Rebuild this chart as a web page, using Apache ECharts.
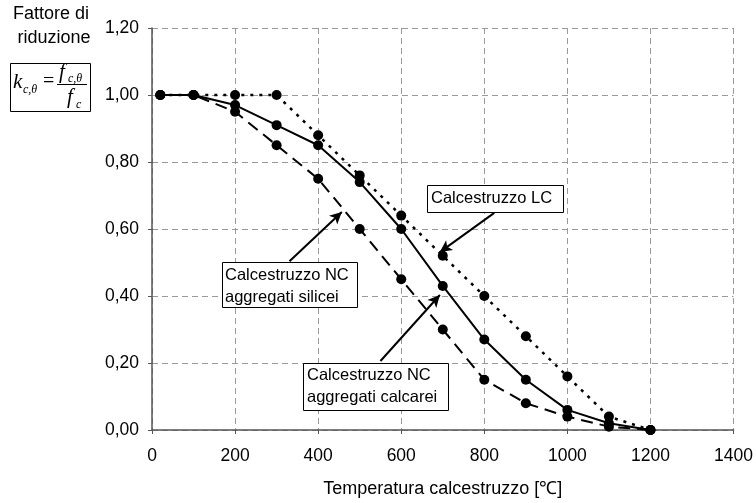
<!DOCTYPE html>
<html>
<head>
<meta charset="utf-8">
<script src="https://cdn.jsdelivr.net/npm/echarts@6/dist/echarts.min.js"></script>
<style>
  html, body { margin: 0; padding: 0; background: #fff; }
  #chart { width: 756px; height: 503px; }
</style>
</head>
<body>
<div id="chart"></div>
<script>
// Temperature steps (°C)
const temperature = [20, 100, 200, 300, 400, 500, 600, 700, 800, 900, 1000, 1100, 1200];

// Reduction factor k_c,θ for each concrete type
const kLightweight = [1.00, 1.00, 1.00, 1.00, 0.88, 0.76, 0.64, 0.52, 0.40, 0.28, 0.16, 0.04, 0.00];
const kSiliceous   = [1.00, 1.00, 0.95, 0.85, 0.75, 0.60, 0.45, 0.30, 0.15, 0.08, 0.04, 0.01, 0.00];
const kCalcareous  = [1.00, 1.00, 0.97, 0.91, 0.85, 0.74, 0.60, 0.43, 0.27, 0.15, 0.06, 0.02, 0.00];

// Axis ranges
const xTicks = [0, 200, 400, 600, 800, 1000, 1200, 1400];
const yTicks = [0.0, 0.2, 0.4, 0.6, 0.8, 1.0, 1.2];

// Callout arrows: [from, to] in data space
const arrowLC         = [[824, 0.648], [693, 0.531]];
const arrowSiliceous  = [[331, 0.504], [457, 0.651]];
const arrowCalcareous = [[550, 0.206], [693, 0.403]];

const pairs = (ys) => temperature.map((t, i) => [t, ys[i]]);

const FONT = '"Liberation Sans", Arial, sans-serif';
const SERIF = '"Liberation Serif", "Times New Roman", serif';

const chart = echarts.init(document.getElementById('chart'), null, { renderer: 'canvas' });

const markerStyle = { color: '#000' };

const arrowItem = (seg) => [
  { coord: seg[0], symbol: 'none' },
  { coord: seg[1], symbol: 'arrow', symbolSize: [9, 12] }
];

chart.setOption({
  animation: false,
  backgroundColor: '#fff',
  grid: { left: 152, right: 16, top: 28, bottom: 73 },
  xAxis: {
    type: 'value',
    min: xTicks[0],
    max: xTicks[xTicks.length - 1],
    interval: 200,
    name: 'Temperatura calcestruzzo [℃]',
    nameLocation: 'middle',
    nameGap: 50,
    nameTextStyle: { fontFamily: FONT, fontSize: 18, color: '#000' },
    axisLine: { lineStyle: { color: '#555', width: 1.5 } },
    axisTick: { show: true, inside: false, length: 4, lineStyle: { color: '#555' } },
    axisLabel: {
      fontFamily: FONT, fontSize: 17.5, color: '#000', margin: 17,
      formatter: (v) => String(v)
    },
    splitLine: { show: true, lineStyle: { color: '#999', type: [6, 4], width: 1 } }
  },
  yAxis: {
    type: 'value',
    min: yTicks[0],
    max: yTicks[yTicks.length - 1],
    interval: 0.2,
    axisLine: { show: true, lineStyle: { color: '#555', width: 1.5 } },
    axisTick: { show: true, inside: false, length: 4, lineStyle: { color: '#555' } },
    axisLabel: {
      fontFamily: FONT, fontSize: 17.5, color: '#000', margin: 13,
      formatter: (v) => v.toFixed(2).replace('.', ',')
    },
    splitLine: { show: true, lineStyle: { color: '#999', type: [6, 4], width: 1 } }
  },
  series: [
    {
      name: 'Calcestruzzo LC',
      type: 'line',
      data: pairs(kLightweight),
      symbol: 'circle',
      symbolSize: 10,
      itemStyle: markerStyle,
      lineStyle: { color: '#000', width: 2.5, type: [3, 6] },
      z: 3
    },
    {
      name: 'Calcestruzzo NC aggregati silicei',
      type: 'line',
      data: pairs(kSiliceous),
      symbol: 'circle',
      symbolSize: 10,
      itemStyle: markerStyle,
      lineStyle: { color: '#000', width: 2, type: [12, 7] },
      z: 3
    },
    {
      name: 'Calcestruzzo NC aggregati calcarei',
      type: 'line',
      data: pairs(kCalcareous),
      symbol: 'circle',
      symbolSize: 10,
      itemStyle: markerStyle,
      lineStyle: { color: '#000', width: 2 },
      z: 3,
      markLine: {
        silent: true,
        animation: false,
        label: { show: false },
        lineStyle: { color: '#000', width: 2, type: 'solid' },
        data: [arrowItem(arrowLC), arrowItem(arrowSiliceous), arrowItem(arrowCalcareous)]
      }
    }
  ],
  graphic: [
    // Y-axis title
    { type: 'text', x: 51, y: 5, style: { text: 'Fattore di', font: '18px ' + FONT, fill: '#000', align: 'center' } },
    { type: 'text', x: 54, y: 29, style: { text: 'riduzione', font: '18px ' + FONT, fill: '#000', align: 'center' } },
    // Formula box: k_c,θ = f_c,θ / f_c
    { type: 'rect', shape: { x: 10.5, y: 63.5, width: 80, height: 48 }, style: { fill: '#fff', stroke: '#000', lineWidth: 1 } },
    { type: 'text', x: 13, y: 72, style: { text: 'k', font: 'italic 21px ' + SERIF, fill: '#000' } },
    { type: 'text', x: 23, y: 84, style: { text: 'c,θ', font: 'italic 12px ' + SERIF, fill: '#000' } },
    { type: 'text', x: 43, y: 72, style: { text: '=', font: '20px ' + SERIF, fill: '#000' } },
    { type: 'line', shape: { x1: 57, y1: 84.5, x2: 87, y2: 84.5 }, style: { stroke: '#000', lineWidth: 1 } },
    { type: 'text', x: 59, y: 62, style: { text: 'f', font: 'italic 21px ' + SERIF, fill: '#000' } },
    { type: 'text', x: 68, y: 73, style: { text: 'c,θ', font: 'italic 12px ' + SERIF, fill: '#000' } },
    { type: 'text', x: 67, y: 87, style: { text: 'f', font: 'italic 21px ' + SERIF, fill: '#000' } },
    { type: 'text', x: 76, y: 99, style: { text: 'c', font: 'italic 12px ' + SERIF, fill: '#000' } },

    // Callout boxes
    { type: 'rect', z: 10, shape: { x: 427.5, y: 185.5, width: 136, height: 27 }, style: { fill: '#fff', stroke: '#000', lineWidth: 1 } },
    { type: 'text', z: 11, x: 431, y: 190, style: { text: 'Calcestruzzo LC', font: '16.5px ' + FONT, fill: '#000' } },

    { type: 'rect', z: 10, shape: { x: 222.5, y: 262.5, width: 135, height: 45 }, style: { fill: '#fff', stroke: '#000', lineWidth: 1 } },
    { type: 'text', z: 11, x: 225, y: 264, style: { text: 'Calcestruzzo NC\naggregati silicei', font: '16.5px ' + FONT, fill: '#000', lineHeight: 22 } },

    { type: 'rect', z: 10, shape: { x: 303.5, y: 363.5, width: 145, height: 47 }, style: { fill: '#fff', stroke: '#000', lineWidth: 1 } },
    { type: 'text', z: 11, x: 307, y: 364, style: { text: 'Calcestruzzo NC\naggregati calcarei', font: '16.5px ' + FONT, fill: '#000', lineHeight: 22 } }
  ]
});
</script>
</body>
</html>
